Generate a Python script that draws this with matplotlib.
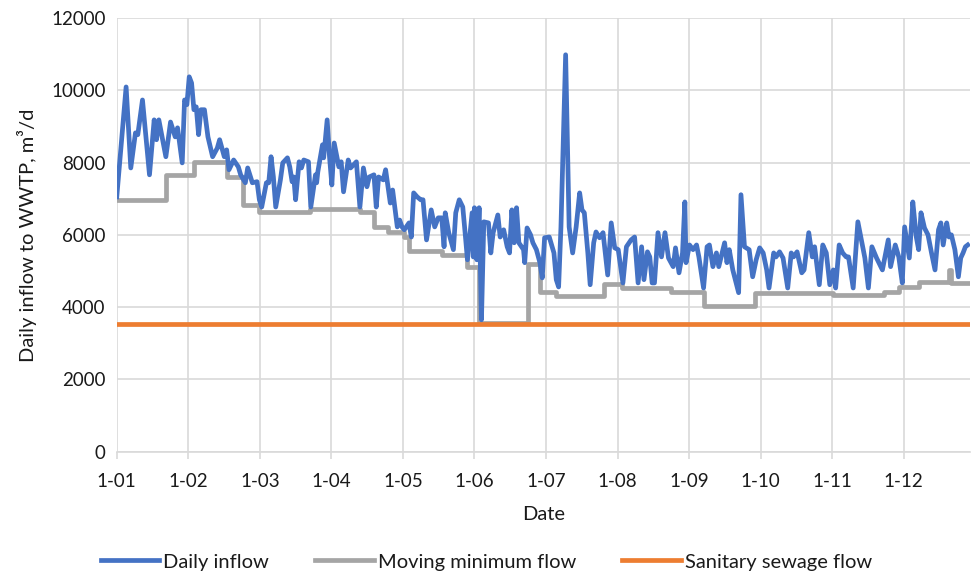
import matplotlib
matplotlib.use("Agg")
import matplotlib.pyplot as plt

plt.rcParams['font.family'] = ['Lato', 'DejaVu Sans']

# Подписи оси X (равные интервалы, как на категориальной оси Excel)
month_labels = ['1-01', '1-02', '1-03', '1-04', '1-05', '1-06',
                '1-07', '1-08', '1-09', '1-10', '1-11', '1-12']
month_step = 30.6

# Суточный приток (день года, м3/сут)
inflow_days = [
    0, 4, 6, 8, 9, 11, 14, 16, 17, 18, 21, 23, 25, 26, 28, 29, 30, 31, 32, 33,
    34, 35, 36, 37.5, 39, 41, 43, 44, 46, 47, 48, 50, 52, 53, 55, 56, 58, 60,
    61, 62, 64, 65, 66, 67, 68, 70, 71, 73, 74, 75, 75.7, 76.5, 78, 79, 80,
    82, 83, 85, 85.5, 86, 88, 88.5, 90, 91, 92, 93, 95, 96, 97, 99, 100, 102.5,
    104, 105.5, 107, 108, 110, 111, 112, 114, 115, 117, 118, 120, 121, 122,
    123, 125, 126, 127, 128.5, 130, 131, 132.5, 134.5, 136, 137.5, 139, 140,
    140.5, 142, 144, 145, 146.5, 148, 149, 150, 152, 152.5, 153, 154, 155,
    156, 157, 159, 160, 161, 163, 164, 165.5, 167, 168, 169, 170, 171, 172,
    174, 174.5, 175.5, 177, 178, 179.5, 181, 182, 183, 185, 187, 188, 189,
    190, 192, 193.5, 195, 196.5, 198, 199, 200, 201.5, 202.5, 204, 205, 206.5,
    208, 210, 211.5, 213, 214.5, 216.5, 218, 220, 221.5, 223, 224.5, 225.5,
    227, 228, 229, 230, 231.5, 233, 234.5, 236, 238, 239, 240.5, 242, 243,
    243.5, 245, 246.5, 248, 249, 251, 252.5, 253.5, 255, 256.5, 257.5, 260,
    261, 262, 263.5, 266, 267, 268.5, 270.5, 272, 273.5, 275, 276.5, 278,
    279, 281, 282, 283.5, 285, 287, 288.5, 289.5, 291, 293, 294, 296, 297.5,
    298.5, 300.5, 302, 303.5, 305, 306.5, 307.5, 309, 310.5, 312, 313, 315,
    317, 318.5, 320, 321.5, 323, 325, 326, 327.5, 330, 331, 333, 334.5, 336,
    337, 339, 340, 340.5, 342, 343, 344, 345.5, 347, 348.5, 350, 351.5, 352.5,
    353.5, 355, 356, 357, 358.5, 360, 361, 362, 363, 364,
]
inflow_values = [
    7050, 10090, 7850, 8820, 8770, 9730, 7660, 9180, 8630, 9180, 8160, 9120,
    8710, 8960, 7990, 9730, 9600, 10370, 10200, 9460, 9540, 8770, 9460, 9460,
    8710, 8160, 8400, 8630, 8160, 8350, 7800, 8070, 7880, 7660, 7440, 7850,
    7440, 7470, 6970, 6770, 7440, 7440, 8160, 7600, 6770, 7520, 7990, 8130,
    7880, 7470, 7600, 6970, 8020, 7850, 8070, 8020, 6770, 7660, 7440, 7740,
    8490, 8130, 9180, 8160, 7380, 8540, 7880, 8020, 7190, 8070, 7850, 8020,
    6770, 7850, 7330, 7600, 7660, 6770, 7600, 7520, 7800, 6880, 7240, 6220,
    6410, 6220, 6140, 6330, 5940, 7160, 7050, 6970, 6970, 5860, 6690, 6220,
    6470, 6470, 5670, 6610, 6060, 5590, 6610, 6970, 6770, 6060, 5310, 6610,
    5390, 6750, 5310, 6750, 3650, 6360, 6330, 5500, 6060, 6550, 5940, 6140,
    5670, 5500, 6690, 5780, 6750, 5780, 5590, 5230, 6190, 6000, 5780, 5590,
    5230, 4810, 5920, 5940, 5500, 4760, 4560, 6220, 10980, 6220, 5500, 6220,
    7160, 6690, 6610, 5500, 4620, 5780, 6080, 5920, 6060, 4890, 6330, 5640,
    5590, 4670, 5670, 5860, 5940, 4670, 5670, 4760, 5530, 5390, 4670, 4670,
    6060, 5390, 6060, 5360, 5120, 5640, 4950, 5500, 6910, 5230, 5720, 5590,
    5720, 5390, 4530, 5670, 5720, 5120, 5500, 5120, 5780, 5230, 5590, 5030,
    4400, 7110, 5670, 5590, 4840, 5310, 5640, 5500, 5030, 4530, 5500, 5390,
    5530, 5360, 4530, 5500, 5390, 5530, 4950, 5030, 6060, 5390, 5670, 4620,
    5720, 5500, 4620, 5030, 4530, 5720, 5500, 5390, 5390, 4530, 6360, 5860,
    5360, 4530, 5670, 5360, 5230, 5030, 5860, 5120, 5720, 5390, 4670, 6220,
    5360, 6330, 6910, 5940, 5590, 6610, 6190, 6000, 5500, 5030, 6140, 6330,
    5720, 6330, 5940, 6000, 5590, 4840, 5360, 5500, 5670, 5720,
]

# Скользящий минимум (ступени: день начала, значение)
min_days = [0, 21, 33, 47, 54, 61, 82.5, 104, 110, 116, 123, 125, 139, 150,
            155, 176, 181, 188, 208.5, 216, 237, 251, 273, 306.5, 328, 334.5,
            343, 356, 357, 364]
min_values = [6970, 7660, 8020, 7600, 6830, 6640, 6720, 6640, 6220, 6080,
              5940, 5560, 5450, 5120, 3560, 5200, 4420, 4310, 4650, 4530,
              4420, 4040, 4400, 4340, 4420, 4560, 4700, 5030, 4670, 4670]

# Хозяйственно-бытовой сток (постоянный)
sanitary_days = [0, 364]
sanitary_values = [3540, 3540]

BLUE = '#4472C4'
GRAY = '#A5A5A5'
ORANGE = '#ED7D31'
GRID = '#D9D9D9'
TEXT = '#1a1a1a'

fig = plt.figure(figsize=(9.73, 5.77), dpi=100)
ax = fig.add_axes([0.120, 0.217, 0.877, 0.752])

ax.plot(inflow_days, inflow_values, color=BLUE, linewidth=3.4,
        solid_joinstyle='round', label='Daily inflow', zorder=3)
ax.plot(min_days, min_values, color=GRAY, linewidth=3.4,
        drawstyle='steps-post', label='Moving minimum flow', zorder=2)
ax.plot(sanitary_days, sanitary_values, color=ORANGE, linewidth=3.4,
        label='Sanitary sewage flow', zorder=2)

ax.set_xlim(0, 365)
ax.set_ylim(0, 12000)
ax.set_yticks(range(0, 12001, 2000))
ax.set_xticks([i * month_step for i in range(len(month_labels))])
ax.set_xticklabels(month_labels)

ax.grid(True, color=GRID, linewidth=1.2)
ax.set_axisbelow(True)
for side in ['top', 'right', 'left']:
    ax.spines[side].set_visible(False)
ax.spines['bottom'].set_color(GRID)
ax.spines['bottom'].set_linewidth(1.2)
ax.tick_params(axis='x', colors=TEXT, labelsize=13.5, length=5,
               color=GRID, width=1.2, pad=10)
ax.tick_params(axis='y', colors=TEXT, labelsize=13.5, length=0, pad=8)

ax.set_xlabel('Date', fontsize=14.5, color=TEXT, labelpad=12)
ax.set_ylabel('Daily inflow to WWTP, m³/d', fontsize=14.5, color=TEXT,
              labelpad=10)

fig.legend(loc='center', bbox_to_anchor=(0.5, 0.026), ncol=3,
           frameon=False, fontsize=14.5, handlelength=2.9,
           handletextpad=0.2, columnspacing=2.3, labelcolor=TEXT)

fig.savefig('out.png', dpi=100)
